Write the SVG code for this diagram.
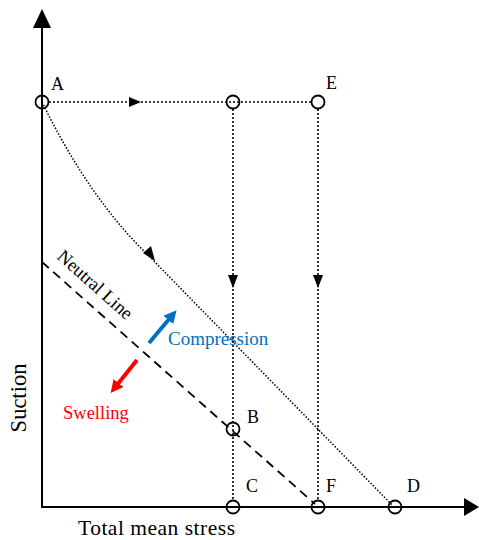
<svg xmlns="http://www.w3.org/2000/svg" width="479" height="540" viewBox="0 0 479 540">
<style>
.lbl{font-family:"Liberation Serif","Times New Roman",serif;font-size:18px;fill:#000}
.ax{stroke:#000;stroke-width:2;fill:none}
.dot{stroke:#000;stroke-width:1.6;stroke-dasharray:2 2;fill:none}
.fine{stroke:#000;stroke-width:1.5;stroke-dasharray:1.5 1.7;fill:none}
.pt{fill:none;stroke:#000;stroke-width:1.8}
.ah{fill:#000}
</style>
<defs>
<marker id="blue" viewBox="0 0 10 10" refX="2" refY="5" markerWidth="3.2" markerHeight="3.2" orient="auto" markerUnits="strokeWidth"><path d="M0,0 L10,5 L0,10 z" fill="#0070C0"/></marker>
<marker id="red" viewBox="0 0 10 10" refX="2" refY="5" markerWidth="3.2" markerHeight="3.2" orient="auto" markerUnits="strokeWidth"><path d="M0,0 L10,5 L0,10 z" fill="#FF0000"/></marker>
</defs>
<g id="axes">
<line class="ax" x1="42" y1="507" x2="42" y2="26"/>
<path class="ah" d="M33,28 L51,28 L42,9 z"/>
<line class="ax" x1="41" y1="507" x2="466" y2="507"/>
<path class="ah" d="M464,498 L464,516 L479,507 z"/>
<text class="lbl" style="font-size:21.5px" x="78" y="535" textLength="157" lengthAdjust="spacing">Total mean stress</text>
<text class="lbl" style="font-size:22.5px" transform="translate(26,398) rotate(-90)" text-anchor="middle">Suction</text>
</g>
<g id="connectors">
<line class="dot" x1="49" y1="102" x2="311" y2="102"/>
<path class="ah" d="M129,97 L129,107 L141,102 z"/>
<line class="dot" x1="233" y1="109" x2="233" y2="500"/>
<path class="ah" d="M228,275 L238,275 L233,288 z"/>
<line class="dot" x1="318" y1="109" x2="318" y2="500"/>
<path class="ah" d="M313,275 L323,275 L318,288 z"/>
<path class="fine" d="M42,102 Q90,200 150,257 L392,505"/>
<path class="ah" d="M143,253 L151,246 L155,261 z"/>
<line x1="42" y1="262" x2="315" y2="504" stroke="#000" stroke-width="1.8" stroke-dasharray="9 6"/>
<line x1="149" y1="343" x2="170" y2="318" stroke="#0070C0" stroke-width="4" marker-end="url(#blue)"/>
<line x1="137" y1="360" x2="117" y2="385" stroke="#FF0000" stroke-width="4" marker-end="url(#red)"/>
</g>
<g id="A"><circle class="pt" cx="42" cy="102" r="6.5"/><text class="lbl" x="51" y="90">A</text></g>
<g id="E"><circle class="pt" cx="318" cy="102" r="6.5"/><text class="lbl" x="326" y="89">E</text></g>
<g id="P1"><circle class="pt" cx="233" cy="102" r="6.5"/></g>
<g id="B"><circle class="pt" cx="233" cy="429" r="6.5"/><text class="lbl" x="247" y="423">B</text></g>
<g id="C"><circle class="pt" cx="233" cy="507" r="6.5"/><text class="lbl" x="246" y="492">C</text></g>
<g id="F"><circle class="pt" cx="318" cy="507" r="6.5"/><text class="lbl" x="326" y="492">F</text></g>
<g id="D"><circle class="pt" cx="395" cy="507" r="6.5"/><text class="lbl" x="407" y="492">D</text></g>
<g id="labels">
<text class="lbl" style="font-size:18.5px" transform="translate(56,258) rotate(41.7)">Neutral Line</text>
<text class="lbl" style="font-size:19px;fill:#0070C0" x="168" y="345">Compression</text>
<text class="lbl" style="font-size:18.5px;fill:#FF0000" x="63" y="419">Swelling</text>
</g>
</svg>
